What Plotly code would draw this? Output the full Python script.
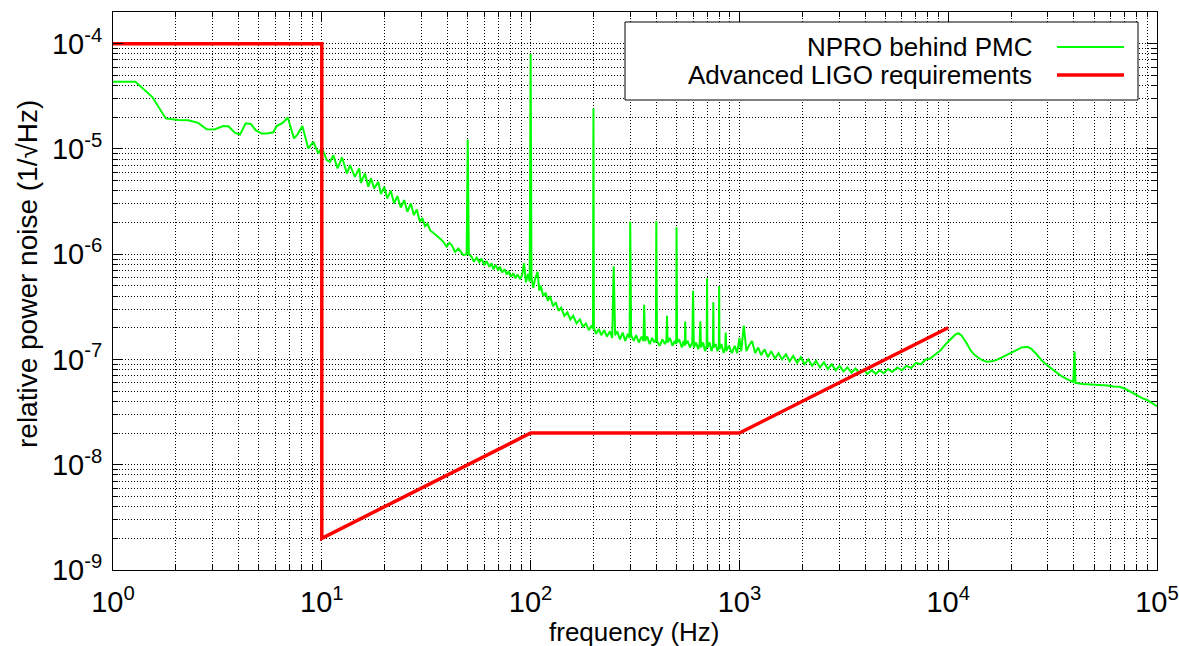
import plotly.graph_objects as go

# ---------------- data ----------------
# NPRO behind PMC : relative power noise spectrum
npro_freq = [
    1.0, 1.28, 1.54, 1.79, 2.05, 2.29, 2.56, 2.81, 3.06, 3.37, 3.57, 3.84, 4.06, 4.32, 4.57,
    4.82, 5.15, 5.45, 5.86, 6.08, 6.50, 6.87, 7.36, 7.64, 8.07, 8.62, 9.10, 9.62, 9.99,
    10.56, 10.95, 11.36, 11.9, 12.5, 13.2, 13.65, 14.4, 15.1, 15.4, 16.1, 16.7, 17.2, 17.8,
    18.65, 19.2, 19.9, 20.6, 21.4, 22.2, 23.0, 23.9, 24.8, 25.7, 26.7, 27.6, 28.5, 29.5,
    30.3, 31.2, 32.1, 33.0, 34.2, 35.5, 36.8, 38.2, 39.6, 40.8, 41.9, 43.5, 45.1, 47.6,
    49.4, 50.0, 50.6, 52.2, 53.5, 55.2, 56.8, 58.2, 60.0, 61.6, 63.5, 65.0, 66.3, 68.0,
    70.0, 71.4, 73.0, 75.0, 76.8, 78.5, 80.5, 82.6, 84.5, 86.5, 89.0, 91.0, 93.0, 95.0,
    97.0, 99.0, 100.0, 101.0, 103.0, 105.0, 108.0, 110.0, 112.0, 115.0, 118.0, 121.0,
    124.0, 128.0, 132.0, 136.0, 140.0, 145.0, 150.0, 155.0, 160.0, 166.0, 172.0, 178.0,
    184.0, 190.0, 196.0, 199.0, 200.0, 201.0, 206.0, 212.0, 218.0, 225.0, 232.0, 240.0,
    246.0, 250.0, 254.0, 260.0, 268.0, 276.0, 284.0, 292.0, 298.0, 300.0, 303.0, 312.0,
    320.0, 330.0, 340.0, 347.0, 350.0, 353.0, 362.0, 372.0, 382.0, 392.0, 398.0, 400.0,
    403.0, 415.0, 428.0, 440.0, 447.0, 450.0, 453.0, 465.0, 478.0, 490.0, 498.0, 500.0,
    503.0, 515.0, 530.0, 540.0, 548.0, 550.0, 553.0, 565.0, 580.0, 595.0, 600.0, 605.0,
    620.0, 635.0, 645.0, 650.0, 655.0, 670.0, 685.0, 697.0, 700.0, 703.0, 720.0, 735.0,
    747.0, 750.0, 753.0, 770.0, 785.0, 797.0, 800.0, 803.0, 820.0, 840.0, 855.0, 860.0,
    865.0, 890.0, 920.0, 950.0, 975.0, 1000.0, 1020.0, 1050.0, 1080.0, 1110.0, 1150.0,
    1190.0, 1230.0, 1270.0, 1320.0, 1370.0, 1420.0, 1480.0, 1540.0, 1600.0, 1670.0, 1740.0,
    1810.0, 1890.0, 1970.0, 2050.0, 2140.0, 2230.0, 2330.0, 2430.0, 2540.0, 2650.0, 2770.0,
    2890.0, 3020.0, 3150.0, 3290.0, 3440.0, 3600.0, 3760.0, 3930.0, 4100.0, 4300.0, 4500.0,
    4700.0, 4900.0, 5150.0, 5400.0, 5700.0, 6000.0, 6300.0, 6650.0, 7000.0, 7400.0, 7800.0,
    8200.0, 8700.0, 9200.0, 9800.0, 10300.0, 10800.0, 11200.0, 11600.0, 12200.0, 12800.0,
    13400.0, 14300.0, 15300.0, 16200.0, 17100.0, 18300.0, 19800.0, 21000.0, 22500.0,
    24000.0, 25000.0, 26500.0, 28000.0, 29600.0, 32000.0, 34300.0, 37000.0, 39700.0,
    40300.0, 40700.0, 44000.0, 48000.0, 53000.0, 58000.0, 62000.0, 66000.0, 70000.0,
    75000.0, 80000.0, 85000.0, 90000.0, 95000.0, 100000.0,
]
npro_noise = [
    4.34e-5, 4.34e-5, 3.13e-5, 1.95e-5, 1.88e-5, 1.87e-5, 1.77e-5, 1.54e-5, 1.53e-5, 1.65e-5,
    1.64e-5, 1.42e-5, 1.37e-5, 1.75e-5, 1.73e-5, 1.51e-5, 1.40e-5, 1.40e-5, 1.44e-5, 1.65e-5,
    1.77e-5, 1.99e-5, 1.26e-5, 1.37e-5, 1.65e-5, 1.01e-5, 1.17e-5, 9.06e-6, 1.03e-5,
    7.83e-6, 7.54e-6, 8.73e-6, 6.53e-6, 8.30e-6, 5.85e-6, 7.02e-6, 5.43e-6, 6.53e-6, 4.77e-6,
    5.85e-6, 4.37e-6, 5.25e-6, 4.22e-6, 4.87e-6, 3.72e-6, 4.37e-6, 3.39e-6, 4.00e-6, 3.04e-6,
    3.56e-6, 2.78e-6, 3.27e-6, 2.53e-6, 3.04e-6, 2.35e-6, 2.66e-6, 2.03e-6, 2.20e-6, 1.85e-6,
    1.95e-6, 1.69e-6, 1.60e-6, 1.52e-6, 1.41e-6, 1.31e-6, 1.18e-6, 1.28e-6, 1.22e-6, 1.05e-6,
    1.13e-6, 9.8e-7, 1.0e-6, 1.23e-5, 1.0e-6, 9.45e-7, 8.5e-7, 9.3e-7, 8.4e-7, 9.1e-7, 7.9e-7,
    8.6e-7, 7.6e-7, 8.2e-7, 7.2e-7, 7.9e-7, 7.0e-7, 7.6e-7, 6.7e-7, 7.2e-7, 6.4e-7, 6.9e-7,
    6.1e-7, 6.6e-7, 5.9e-7, 6.4e-7, 5.8e-7, 6.3e-7, 8.2e-7, 5.4e-7, 6.5e-7, 5.5e-7, 8.0e-5,
    6.0e-7, 4.8e-7, 5.8e-7, 6.8e-7, 4.5e-7, 5.0e-7, 4.0e-7, 4.3e-7, 3.6e-7, 4.0e-7, 3.2e-7,
    3.5e-7, 2.9e-7, 3.1e-7, 2.6e-7, 2.8e-7, 2.4e-7, 2.6e-7, 2.2e-7, 2.4e-7, 2.05e-7, 2.2e-7,
    1.9e-7, 2.1e-7, 1.95e-7, 2.42e-5, 2.0e-7, 1.75e-7, 1.95e-7, 1.7e-7, 1.9e-7, 1.65e-7,
    1.85e-7, 1.6e-7, 7.7e-7, 1.7e-7, 1.85e-7, 1.55e-7, 1.8e-7, 1.5e-7, 1.75e-7, 1.6e-7,
    2.03e-6, 1.7e-7, 1.5e-7, 1.7e-7, 1.45e-7, 1.65e-7, 1.5e-7, 3.3e-7, 1.5e-7, 1.65e-7,
    1.4e-7, 1.6e-7, 1.45e-7, 1.55e-7, 2.07e-6, 1.5e-7, 1.35e-7, 1.55e-7, 1.4e-7, 1.5e-7,
    2.6e-7, 1.45e-7, 1.6e-7, 1.35e-7, 1.5e-7, 1.4e-7, 1.8e-6, 1.45e-7, 1.55e-7, 1.3e-7,
    1.5e-7, 1.35e-7, 2.3e-7, 1.4e-7, 1.5e-7, 1.3e-7, 1.45e-7, 4.5e-7, 1.3e-7, 1.45e-7,
    1.25e-7, 1.4e-7, 2.3e-7, 1.3e-7, 1.45e-7, 1.2e-7, 1.35e-7, 5.9e-7, 1.3e-7, 1.45e-7,
    1.2e-7, 1.35e-7, 3.5e-7, 1.3e-7, 1.4e-7, 1.2e-7, 1.3e-7, 5.0e-7, 1.25e-7, 1.4e-7,
    1.15e-7, 1.3e-7, 1.8e-7, 1.2e-7, 1.35e-7, 1.15e-7, 1.35e-7, 1.15e-7, 1.6e-7, 1.2e-7,
    2.1e-7, 1.2e-7, 1.35e-7, 1.5e-7, 1.15e-7, 1.3e-7, 1.1e-7, 1.25e-7, 1.05e-7, 1.2e-7,
    1.02e-7, 1.15e-7, 1.0e-7, 1.12e-7, 9.6e-8, 1.08e-7, 9.3e-8, 1.05e-7, 9.0e-8, 1.0e-7,
    8.7e-8, 9.7e-8, 8.4e-8, 9.4e-8, 8.1e-8, 9.0e-8, 7.9e-8, 8.7e-8, 7.7e-8, 8.4e-8, 7.5e-8,
    8.2e-8, 7.4e-8, 8.0e-8, 7.3e-8, 7.9e-8, 7.3e-8, 7.9e-8, 7.4e-8, 8.1e-8, 7.6e-8, 8.4e-8,
    7.9e-8, 8.7e-8, 8.3e-8, 9.3e-8, 9.0e-8, 1.0e-7, 1.02e-7, 1.12e-7, 1.22e-7, 1.42e-7,
    1.58e-7, 1.72e-7, 1.78e-7, 1.68e-7, 1.45e-7, 1.22e-7, 1.1e-7, 1.0e-7, 9.5e-8, 9.6e-8,
    9.9e-8, 1.06e-7, 1.14e-7, 1.22e-7, 1.3e-7, 1.32e-7, 1.26e-7, 1.12e-7, 9.8e-8, 8.9e-8,
    7.9e-8, 7.1e-8, 6.5e-8, 6.1e-8, 1.19e-7, 6.0e-8, 5.85e-8, 5.8e-8, 5.75e-8, 5.65e-8,
    5.55e-8, 5.5e-8, 5.3e-8, 4.9e-8, 4.6e-8, 4.3e-8, 4.1e-8, 3.8e-8, 3.6e-8,
]

# Advanced LIGO requirement curve
req_freq = [1, 10, 10, 100, 1000, 10000]
req_noise = [1e-4, 1e-4, 2e-9, 2e-8, 2e-8, 2e-7]

x_ticks = [1, 10, 100, 1000, 10000, 100000]
x_ticktext = ["10<sup>0</sup>", "10<sup>1</sup>", "10<sup>2</sup>", "10<sup>3</sup>",
              "10<sup>4</sup>", "10<sup>5</sup>"]
y_ticks = [1e-9, 1e-8, 1e-7, 1e-6, 1e-5, 1e-4]
y_ticktext = ["10<sup>-9</sup>", "10<sup>-8</sup>", "10<sup>-7</sup>", "10<sup>-6</sup>",
              "10<sup>-5</sup>", "10<sup>-4</sup>"]

series_names = ["NPRO behind PMC", "Advanced LIGO requirements"]
series_colors = ["#00ff00", "#ff0000"]
series_widths = [2.0, 3.5]

# ---------------- figure ----------------
FONT = "Liberation Sans, Arial, Helvetica, sans-serif"
GRID = "black"
DASH = "1px,2px"

x_minor = [m * 10 ** d for d in range(0, 5) for m in range(2, 10)]
y_minor = [m * 10.0 ** d for d in range(-9, -3) for m in range(2, 10)]

fig = go.Figure()
fig.add_trace(go.Scatter(x=npro_freq, y=npro_noise, mode="lines", name=series_names[0],
                         line=dict(color=series_colors[0], width=series_widths[0]),
                         showlegend=False))
fig.add_trace(go.Scatter(x=req_freq, y=req_noise, mode="lines", name=series_names[1],
                         line=dict(color=series_colors[1], width=series_widths[1]),
                         showlegend=False))

axis_common = dict(
    type="log", showline=True, linecolor="black", linewidth=1, mirror="allticks",
    ticks="inside", ticklen=10, tickwidth=1, tickcolor="black",
    showgrid=True, gridcolor=GRID, gridwidth=1, griddash=DASH, zeroline=False,
    tickfont=dict(family=FONT, size=29, color="black"),
)

fig.update_xaxes(range=[0, 5], tickmode="array", tickvals=x_ticks, ticktext=x_ticktext,
                 minor=dict(tickmode="array", tickvals=x_minor, ticks="inside", ticklen=5,
                            tickcolor="black", showgrid=True, gridcolor=GRID,
                            griddash=DASH, gridwidth=1),
                 ticklabelstandoff=6, **axis_common)
fig.update_yaxes(range=[-9, -3.699], tickmode="array", tickvals=y_ticks, ticktext=y_ticktext,
                 minor=dict(tickmode="array", tickvals=y_minor, ticks="inside", ticklen=5,
                            tickcolor="black", showgrid=True, gridcolor=GRID,
                            griddash=DASH, gridwidth=1),
                 ticklabelstandoff=4, **axis_common)

W, H = 1179, 646
L, R, T, B = 113, 22, 12, 76
pw, ph = W - L - R, H - T - B


def px(x):
    return (x - L) / pw


def py(y):
    return (H - B - y) / ph


# manual legend box (text left of the line sample, like the original)
fig.add_shape(type="rect", xref="paper", yref="paper",
              x0=px(625), x1=px(1138), y0=py(100), y1=py(22),
              line=dict(color="black", width=1), fillcolor="white", layer="above")
for i, yy in enumerate([47, 75]):
    fig.add_annotation(xref="paper", yref="paper", x=px(1034), y=py(yy),
                       text=series_names[i], showarrow=False, xanchor="right",
                       yanchor="middle", font=dict(family=FONT, size=26, color="black"))
    fig.add_shape(type="line", xref="paper", yref="paper", x0=px(1057), x1=px(1124),
                  y0=py(yy), y1=py(yy), layer="above",
                  line=dict(color=series_colors[i], width=series_widths[i]))

# axis titles
fig.add_annotation(xref="paper", yref="paper", x=px(634), y=py(632),
                   text="frequency (Hz)", showarrow=False, xanchor="center",
                   yanchor="middle", font=dict(family=FONT, size=26, color="black"))
fig.add_annotation(xref="paper", yref="paper", x=px(27), y=py(274),
                   text="relative power noise (1/√Hz)", showarrow=False, textangle=-90,
                   xanchor="center", yanchor="middle",
                   font=dict(family=FONT, size=28, color="black"))

fig.update_layout(
    width=W, height=H, margin=dict(l=L, r=R, t=T, b=B, autoexpand=False),
    paper_bgcolor="white", plot_bgcolor="white", showlegend=False,
    font=dict(family=FONT, color="black"),
)

fig.write_html("out.html")
